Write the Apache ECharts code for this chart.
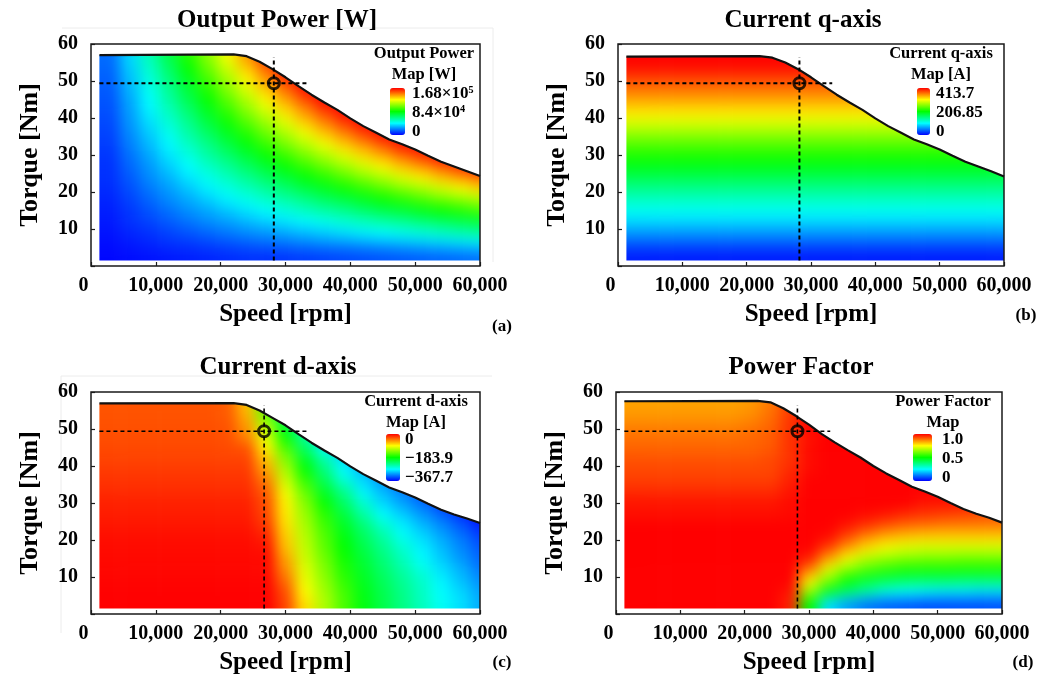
<!DOCTYPE html>
<html>
<head>
<meta charset="utf-8">
<title>Motor maps</title>
<script src="https://cdn.jsdelivr.net/npm/echarts@6/dist/echarts.min.js"></script>
<style>
  html, body { margin: 0; padding: 0; background: #fff; }
  #heat, #main { position: absolute; left: 0; top: 0; width: 1056px; height: 675px; }
  #heat { filter: blur(7px); }
</style>
</head>
<body>
<div id="heat"></div>
<div id="main"></div>
<script>
// cell centres, rows below run top to bottom
const speeds = [3000, 6000, 9000, 12000, 15000, 18000, 21000, 24000, 27000, 30000, 33000, 36000, 39000, 42000, 45000, 48000, 51000, 54000, 57000, 60000]
const torques = [57, 54, 51, 48, 45, 42, 39, 36, 33, 30, 27, 24, 21, 18, 15, 12, 9, 6, 3]

const outputPower = [ // kW
  [18, 36, 54, 72, 90, 107, 125, 143, 161, 168, 168, 168, 168, 168, 168, 168, 168, 168, 168, 168],
  [17, 34, 51, 68, 85, 102, 119, 136, 153, 168, 168, 168, 168, 168, 168, 168, 168, 168, 168, 168],
  [16, 32, 48, 64, 80, 96, 112, 128, 144, 160, 168, 168, 168, 168, 168, 168, 168, 168, 168, 168],
  [15, 30, 45, 60, 75, 90, 106, 121, 136, 151, 166, 168, 168, 168, 168, 168, 168, 168, 168, 168],
  [14, 28, 42, 57, 71, 85, 99, 113, 127, 141, 155, 168, 168, 168, 168, 168, 168, 168, 168, 168],
  [13, 26, 40, 53, 66, 79, 92, 106, 119, 132, 145, 158, 168, 168, 168, 168, 168, 168, 168, 168],
  [12, 25, 37, 49, 61, 74, 86, 98, 110, 122, 135, 147, 159, 168, 168, 168, 168, 168, 168, 168],
  [11, 23, 34, 45, 57, 68, 79, 90, 102, 113, 124, 136, 147, 158, 168, 168, 168, 168, 168, 168],
  [10, 21, 31, 41, 52, 62, 73, 83, 93, 104, 114, 124, 135, 145, 155, 166, 168, 168, 168, 168],
  [9, 19, 28, 38, 47, 57, 66, 75, 85, 94, 104, 113, 122, 132, 141, 151, 160, 168, 168, 168],
  [8, 17, 25, 34, 42, 51, 59, 68, 76, 85, 93, 102, 110, 119, 127, 136, 144, 153, 161, 168],
  [8, 15, 23, 30, 38, 45, 53, 60, 68, 75, 83, 90, 98, 106, 113, 121, 128, 136, 143, 151],
  [7, 13, 20, 26, 33, 40, 46, 53, 59, 66, 73, 79, 86, 92, 99, 106, 112, 119, 125, 132],
  [6, 11, 17, 23, 28, 34, 40, 45, 51, 57, 62, 68, 73, 79, 85, 90, 96, 102, 107, 113],
  [5, 9, 14, 19, 24, 28, 33, 38, 42, 47, 52, 57, 61, 66, 71, 75, 80, 85, 89, 94],
  [4, 8, 11, 15, 19, 23, 26, 30, 34, 38, 41, 45, 49, 53, 57, 60, 64, 68, 72, 75],
  [3, 6, 8, 11, 14, 17, 20, 23, 25, 28, 31, 34, 37, 40, 42, 45, 48, 51, 54, 57],
  [2, 4, 6, 8, 9, 11, 13, 15, 17, 19, 21, 23, 24, 26, 28, 30, 32, 34, 36, 38],
  [1, 2, 3, 4, 5, 6, 7, 8, 8, 9, 10, 11, 12, 13, 14, 15, 16, 17, 18, 19]
]
// q current only moves with torque, one value per row
const currentQ = [413.7, 410, 389, 368, 347, 323, 298, 269, 242, 219, 197, 174, 151, 128, 108, 87, 62, 37, 12]
const currentD = [
  [-30, -30, -30, -30, -30, -30, -33, -70, -150, -230, -290, -340, -368, -368, -368, -368, -368, -368, -368, -368],
  [-30, -30, -30, -30, -30, -30, -33, -65, -147, -221, -268, -320, -350, -368, -368, -368, -368, -368, -368, -368],
  [-29, -29, -29, -29, -29, -29, -30, -55, -121, -202, -257, -300, -330, -350, -368, -368, -368, -368, -368, -368],
  [-28, -28, -28, -28, -28, -28, -29, -50, -103, -184, -239, -294, -320, -345, -368, -368, -368, -368, -368, -368],
  [-26, -26, -26, -26, -26, -26, -27, -30, -90, -158, -221, -276, -305, -331, -357, -368, -368, -368, -368, -368],
  [-24, -24, -24, -24, -24, -24, -24, -24, -70, -138, -198, -245, -287, -313, -340, -368, -368, -368, -368, -368],
  [-21, -21, -21, -21, -21, -21, -21, -21, -59, -122, -184, -230, -276, -301, -324, -346, -368, -368, -368, -368],
  [-18, -18, -18, -18, -18, -18, -18, -18, -44, -110, -165, -214, -261, -290, -313, -331, -349, -368, -368, -368],
  [-15, -15, -15, -15, -15, -15, -15, -15, -33, -97, -149, -198, -233, -279, -301, -320, -338, -357, -368, -368],
  [-12, -12, -12, -12, -12, -12, -12, -12, -28, -88, -136, -182, -221, -259, -290, -309, -327, -346, -364, -368],
  [-10, -10, -10, -10, -10, -10, -10, -10, -26, -85, -129, -169, -206, -243, -276, -294, -313, -331, -349, -368],
  [-8, -8, -8, -8, -8, -8, -8, -8, -20, -81, -123, -162, -197, -226, -257, -281, -300, -318, -336, -355],
  [-5, -5, -5, -5, -5, -5, -5, -5, -12, -74, -118, -154, -189, -217, -243, -272, -289, -307, -325, -344],
  [-4, -4, -4, -4, -4, -4, -4, -4, -6, -70, -114, -151, -184, -210, -234, -259, -281, -300, -318, -336],
  [-3, -3, -3, -3, -3, -3, -3, -3, -3, -59, -110, -143, -178, -204, -228, -252, -276, -294, -313, -331],
  [-2, -2, -2, -2, -2, -2, -2, -2, -3, -51, -103, -138, -173, -199, -221, -243, -265, -287, -303, -324],
  [-1, -1, -1, -1, -1, -1, -1, -1, -1, -40, -99, -132, -167, -195, -216, -237, -257, -279, -298, -316],
  [0, 0, 0, 0, 0, 0, 0, 0, 0, -29, -92, -126, -160, -191, -212, -233, -254, -276, -290, -309],
  [0, 0, 0, 0, 0, 0, 0, 0, 0, -25, -81, -121, -157, -189, -210, -231, -252, -272, -287, -305]
]
const powerFactor = [
  [.84, .84, .84, .84, .84, .84, .85, .88, .94, 1, 1, 1, 1, 1, 1, 1, 1, 1, 1, 1],
  [.85, .85, .85, .85, .85, .85, .86, .89, .94, 1, 1, 1, 1, 1, 1, 1, 1, 1, 1, 1],
  [.87, .87, .87, .87, .87, .87, .88, .90, .95, 1, 1, 1, 1, 1, 1, 1, 1, 1, 1, 1],
  [.89, .89, .89, .89, .89, .89, .90, .91, .95, .98, 1, 1, 1, 1, 1, 1, 1, 1, 1, 1],
  [.90, .90, .90, .90, .90, .90, .90, .91, .95, .99, 1, 1, 1, 1, 1, 1, 1, 1, 1, 1],
  [.92, .92, .92, .92, .92, .92, .92, .93, .95, .99, 1, 1, 1, 1, 1, 1, 1, 1, 1, 1],
  [.93, .93, .93, .93, .93, .93, .93, .93, .96, .99, 1, 1, 1, 1, 1, 1, 1, 1, 1, 1],
  [.94, .94, .94, .94, .94, .94, .94, .94, .97, 1, 1, 1, 1, 1, 1, 1, 1, 1, 1, 1],
  [.96, .96, .96, .96, .96, .96, .96, .96, .98, 1, 1, 1, 1, 1, 1, 1, 1, 1, 1, 1],
  [.98, .98, .98, .98, .98, .98, .98, .98, .99, 1, 1, 1, 1, 1, 1, .98, .98, .98, .98, .98],
  [.985, .985, .985, .985, .985, .985, .985, .985, .99, 1, 1, 1, .99, .98, .96, .95, .94, .93, .92, .92],
  [1, 1, 1, 1, 1, 1, 1, 1, 1, 1, 1, .98, .95, .92, .90, .89, .88, .88, .88, .88],
  [1, 1, 1, 1, 1, 1, 1, 1, 1, 1, .99, .93, .87, .83, .81, .80, .80, .80, .80, .80],
  [1, 1, 1, 1, 1, 1, 1, 1, 1, 1, .94, .85, .78, .74, .72, .71, .71, .71, .71, .71],
  [1, 1, 1, 1, 1, 1, 1, 1, 1, .97, .84, .74, .68, .65, .63, .62, .62, .61, .61, .61],
  [1, 1, 1, 1, 1, 1, 1, 1, 1, .88, .72, .63, .57, .54, .52, .52, .52, .52, .52, .52],
  [1, 1, 1, 1, 1, 1, 1, 1, 1, .76, .62, .50, .45, .42, .40, .39, .39, .38, .38, .38],
  [1, 1, 1, 1, 1, 1, 1, 1, .98, .65, .47, .39, .33, .27, .25, .24, .23, .23, .22, .22],
  [1, 1, 1, 1, 1, 1, 1, 1, .97, .50, .22, .16, .12, .10, .09, .08, .08, .08, .08, .08]
]

// torque limit curve
const limitSpeeds = [1300, 22000, 24000, 26000, 28000, 30000, 32000, 34000, 36000, 38000, 40000, 42000, 44000, 46000, 48000, 50000, 52000, 54000, 56000, 58000, 60000]
const limitA = [57, 57.2, 56.7, 55.2, 53.2, 51, 48.6, 46.3, 44.2, 42.2, 39.9, 37.8, 36, 34.2, 32.9, 31.5, 29.8, 28.2, 26.9, 25.6, 24.3]
const limitB = [56.6, 56.7, 56.3, 55, 53.2, 51, 48.6, 46.3, 44.2, 42.2, 39.9, 37.8, 36, 34.2, 32.9, 31.5, 29.8, 28.2, 26.9, 25.6, 24.2]
const limitC = [56.9, 57, 56.5, 55, 53, 51, 48.6, 46.3, 44.2, 42.2, 39.9, 37.8, 36, 34.2, 32.9, 31.5, 29.8, 28.2, 26.9, 25.8, 24.6]
const limitD = [57.5, 57.6, 57.2, 55.6, 53.5, 51.2, 48.6, 46.4, 44.3, 42.3, 40, 38, 36.2, 34.4, 33.1, 31.7, 30, 28.4, 27.1, 26, 24.7]

// rated point of each map
const ratedSpeed = [28200, 28200, 26700, 28200]
const ratedTorque = [49.4, 49.4, 49.4, 49.4]
const guideEndSpeed = 33300
const guideTopTorque = 56.4
const guideLowTorque = 1.5
const guideLowSpeed = 1300

const titles = ['Output Power [W]', 'Current q-axis', 'Current d-axis', 'Power Factor']
const mapNames = [['Output Power', 'Map [W]'], ['Current q-axis', 'Map [A]'], ['Current d-axis', 'Map [A]'], ['Power Factor', 'Map']]
const scaleLabels = [['1.68×10⁵', '8.4×10⁴', '0'], ['413.7', '206.85', '0'], ['0', '−183.9', '−367.7'], ['1.0', '0.5', '0']]
const scaleMin = [0, 0, -367.7, 0]
const scaleMax = [168, 413.7, 0, 1]
const panelTags = ['(a)', '(b)', '(c)', '(d)']

const rainbow = ['#0000ff', '#00ffff', '#00ff00', '#ffff00', '#ff0000']
const font = '"Liberation Serif"'

const layout = [
  { left: 91, top: 44, width: 389, height: 222, titleX: 277, titleY: 21, barX: 390, barW: 15, barY: 88, nameX: 424, nameY: 54, labelX: 412, tagX: 502, tagY: 327 },
  { left: 618, top: 44, width: 386, height: 222, titleX: 803, titleY: 21, barX: 917, barW: 13, barY: 88, nameX: 941, nameY: 54, labelX: 936, tagX: 1026, tagY: 316 },
  { left: 91, top: 392, width: 389, height: 222, titleX: 278, titleY: 368, barX: 386, barW: 14, barY: 434, nameX: 416, nameY: 402, labelX: 405, tagX: 502, tagY: 663 },
  { left: 616, top: 392, width: 386, height: 222, titleX: 801, titleY: 368, barX: 913, barW: 19, barY: 434, nameX: 943, nameY: 402, labelX: 942, tagX: 1023, tagY: 663 }
]
const limits = [limitA, limitB, limitC, limitD]

function cellRows(i) {
  var out = []
  torques.forEach(function (t, r) {
    speeds.forEach(function (s, c) {
      var v
      if (i == 0) v = outputPower[r][c]
      else if (i == 1) v = currentQ[r]
      else if (i == 2) v = currentD[r][c]
      else v = powerFactor[r][c]
      out.push([s, t, v])
    })
  })
  return out
}

function renderCell(params, api) {
  var s = api.value(0), t = api.value(1)
  var a = api.coord([s - 1500, t + 1.5])
  var b = api.coord([s + 1500, t - 1.5])
  // outer cells run on past the clip so the blur does not fade at the edges
  var x0 = s == speeds[0] ? a[0] - 40 : a[0]
  var x1 = s == speeds[speeds.length - 1] ? b[0] + 40 : b[0]
  var y0 = t == torques[0] ? a[1] - 40 : a[1]
  var y1 = t == torques[torques.length - 1] ? b[1] + 40 : b[1]
  return {
    type: 'rect',
    shape: { x: x0, y: y0, width: x1 - x0 + 0.5, height: y1 - y0 + 0.5 },
    style: { fill: api.visual('color') }
  }
}

function gridList(show) {
  return layout.map(function (p) {
    return {
      left: p.left, top: p.top, width: p.width, height: p.height, outerBoundsMode: 'none',
      show: show, borderColor: '#1a1a1a', borderWidth: 1.5, backgroundColor: 'transparent'
    }
  })
}

// heat layer, axes hidden, same grids as the top layer
const heat = echarts.init(document.getElementById('heat'), null, { renderer: 'canvas' })
heat.setOption({
  animation: false,
  grid: gridList(false),
  xAxis: layout.map(function (p, i) { return { gridIndex: i, type: 'value', min: 0, max: 60000, show: false } }),
  yAxis: layout.map(function (p, i) { return { gridIndex: i, type: 'value', min: 0, max: 60, show: false } }),
  visualMap: layout.map(function (p, i) {
    return { show: false, type: 'continuous', seriesIndex: i, dimension: 2, min: scaleMin[i], max: scaleMax[i], inRange: { color: rainbow } }
  }),
  series: layout.map(function (p, i) {
    return {
      type: 'custom', xAxisIndex: i, yAxisIndex: i, renderItem: renderCell,
      encode: { x: 0, y: 1 }, data: cellRows(i), silent: true, clip: false
    }
  })
})

// clip the blurred layer to the region under each limit curve
var clipPath = ''
layout.forEach(function (p, i) {
  var finder = { gridIndex: i }
  var pts = [[60000, guideLowTorque], [guideLowSpeed, guideLowTorque]]
  limitSpeeds.forEach(function (s, k) { pts.push([s, limits[i][k]]) })
  clipPath += pts.map(function (d, k) {
    var px = heat.convertToPixel(finder, d)
    return (k == 0 ? 'M' : 'L') + px[0].toFixed(1) + ' ' + px[1].toFixed(1)
  }).join(' ') + ' Z '
})
document.getElementById('heat').style.clipPath = 'path("' + clipPath + '")'

function tickText(v) {
  if (v == 0) return '0   '
  return String(v / 1000) + ',000'
}

function lineSeries(i, data, style) {
  return { type: 'line', xAxisIndex: i, yAxisIndex: i, data: data, showSymbol: false, symbol: 'none', silent: true, lineStyle: style, z: 5 }
}

// faint scan frames left around (a) and (c) in the source picture
var graphic = [
  { type: 'polyline', shape: { points: [[62, 28], [493, 28], [493, 262]] }, style: { stroke: '#ececec', lineWidth: 1, fill: null } },
  { type: 'polyline', shape: { points: [[61, 633], [61, 376], [492, 376]] }, style: { stroke: '#ececec', lineWidth: 1, fill: null } }
]
var series = [], title = []
layout.forEach(function (p, i) {
  series.push(lineSeries(i, limitSpeeds.map(function (s, k) { return [s, limits[i][k]] }), { color: '#111', width: 2.2 }))
  var dash = { color: '#000', width: i < 2 ? 2 : 1.6, type: [4, 3] }
  series.push(lineSeries(i, [[guideLowSpeed, ratedTorque[i]], [guideEndSpeed, ratedTorque[i]]], dash))
  series.push(lineSeries(i, [[ratedSpeed[i], guideLowTorque], [ratedSpeed[i], guideTopTorque]], dash))
  series.push({
    type: 'scatter', xAxisIndex: i, yAxisIndex: i, data: [[ratedSpeed[i], ratedTorque[i]]], symbol: 'circle', symbolSize: 11,
    itemStyle: { color: 'rgba(0,0,0,0)', borderColor: '#000', borderWidth: 3 }, silent: true, z: 6
  })
  title.push({
    text: titles[i], left: p.titleX, top: p.titleY, textAlign: 'center', textVerticalAlign: 'middle', padding: 0,
    textStyle: { fontFamily: font, fontSize: 25, fontWeight: 'bold', color: '#000' }
  })
  mapNames[i].forEach(function (t, k) {
    graphic.push({
      type: 'text', x: p.nameX, y: p.nameY + k * 20.5,
      style: { text: t, font: 'bold 16.5px ' + font, fill: '#000', align: 'center', verticalAlign: 'middle' }
    })
  })
  scaleLabels[i].forEach(function (t, k) {
    graphic.push({
      type: 'text', x: p.labelX, y: p.barY + 6 + k * 19,
      style: { text: t, font: 'bold 17px ' + font, fill: '#000', align: 'left', verticalAlign: 'middle' }
    })
  })
  graphic.push({
    type: 'text', x: p.tagX, y: p.tagY,
    style: { text: panelTags[i], font: 'bold 17px ' + font, fill: '#000', align: 'center', verticalAlign: 'middle' }
  })
})

const chart = echarts.init(document.getElementById('main'), null, { renderer: 'canvas' })
chart.setOption({
  animation: false,
  backgroundColor: 'transparent',
  title: title,
  grid: gridList(true),
  xAxis: layout.map(function (p, i) {
    return {
      gridIndex: i, type: 'value', min: 0, max: 60000, interval: 10000,
      name: 'Speed [rpm]', nameLocation: 'middle', nameGap: 49,
      nameTextStyle: { fontFamily: font, fontSize: 25, fontWeight: 'bold', color: '#000', verticalAlign: 'middle' },
      axisLine: { show: false }, splitLine: { show: false },
      axisTick: { show: true, inside: true, length: 4, lineStyle: { color: '#1a1a1a', width: 1.2 } },
      axisLabel: { formatter: tickText, margin: 10, fontFamily: font, fontSize: 20, fontWeight: 'bold', color: '#000', showMaxLabel: true, hideOverlap: false }
    }
  }),
  yAxis: layout.map(function (p, i) {
    return {
      gridIndex: i, type: 'value', min: 0, max: 60, interval: 10,
      name: 'Torque [Nm]', nameLocation: 'middle', nameGap: 48,
      nameTextStyle: { fontFamily: font, fontSize: 26, fontWeight: 'bold', color: '#000' },
      axisLine: { show: false }, splitLine: { show: false },
      axisTick: { show: true, inside: true, length: 4, lineStyle: { color: '#1a1a1a', width: 1.2 } },
      axisLabel: { formatter: function (v) { return v == 0 ? '' : String(v) }, margin: 13, padding: [3, 0, 0, 0], fontFamily: font, fontSize: 20, fontWeight: 'bold', color: '#000' }
    }
  }),
  visualMap: layout.map(function (p, i) {
    return {
      type: 'continuous', seriesIndex: [], min: scaleMin[i], max: scaleMax[i], inRange: { color: rainbow },
      left: p.barX, top: p.barY, itemWidth: p.barW, itemHeight: 47, padding: 0, text: null, calculable: false, realtime: false
    }
  }),
  graphic: graphic,
  series: series
})
</script>
</body>
</html>
